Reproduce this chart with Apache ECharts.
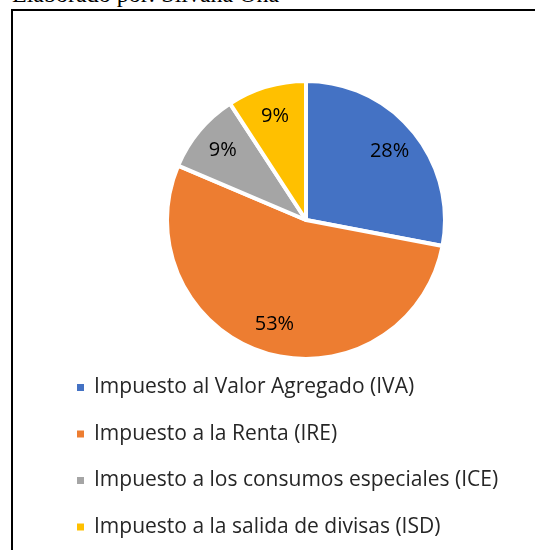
<!DOCTYPE html>
<html>
<head>
<meta charset="utf-8">
<script src="https://cdn.jsdelivr.net/npm/echarts@6/dist/echarts.min.js"></script>
<style>
  html, body { margin: 0; padding: 0; background: #fff; }
  #wrap { position: relative; width: 535px; height: 550px; overflow: hidden; }
  #caption { position: absolute; left: 12px; top: -18px; font-family: "Liberation Serif", serif; font-size: 24px; line-height: 24px; color: #000; white-space: nowrap; }
  #frame { position: absolute; left: 11px; top: 9px; width: 600px; height: 600px; border: 2px solid #000; }
  #chart { position: absolute; left: 0; top: 0; width: 535px; height: 550px; }
</style>
</head>
<body>
<div id="wrap">
  <div id="caption">Elaborado por: Silvana Oña</div>
  <div id="frame"></div>
  <div id="chart"></div>
</div>
<script>
const categories = [
  "Impuesto al Valor Agregado (IVA)",
  "Impuesto a la Renta (IRE)",
  "Impuesto a los consumos especiales (ICE)",
  "Impuesto a la salida de divisas (ISD)"
];
const values = [28.0, 53.4, 9.4, 9.2];
const colors = ["#4472C4", "#ED7D31", "#A5A5A5", "#FFC000"];

const font = '"Open Sans", sans-serif';
const data = categories.map((name, i) => ({ name, value: values[i] }));

const myChart = echarts.init(document.getElementById("chart"));
myChart.setOption({
  animation: false,
  color: colors,
  legend: {
    orient: "vertical",
    left: 75,
    top: 377,
    padding: 0,
    icon: "rect",
    itemWidth: 9,
    itemHeight: 9,
    itemGap: 25.5,
    textStyle: { fontFamily: font, fontSize: 21, color: "#262626", lineHeight: 20, padding: [0, 0, 0, 4] },
    data: categories
  },
  series: [
    {
      type: "pie",
      center: [306, 220],
      radius: [0, 139],
      startAngle: 90,
      clockwise: true,
      data,
      itemStyle: { borderColor: "#fff", borderWidth: 4 },
      label: { show: false },
      labelLine: { show: false },
      emphasis: { disabled: true }
    },
    {
      // label carrier: ring so inside labels sit at ~0.77 r
      type: "pie",
      center: [306, 220],
      radius: [72, 139],
      startAngle: 90,
      clockwise: true,
      silent: true,
      data,
      itemStyle: { color: "transparent", borderWidth: 0 },
      label: {
        show: true,
        position: "inside",
        fontFamily: font,
        fontSize: 20,
        color: "#000",
        formatter: p => Math.round(p.percent) + "%"
      },
      labelLine: { show: false },
      legendHoverLink: false,
      emphasis: { disabled: true }
    }
  ]
});
</script>
</body>
</html>
